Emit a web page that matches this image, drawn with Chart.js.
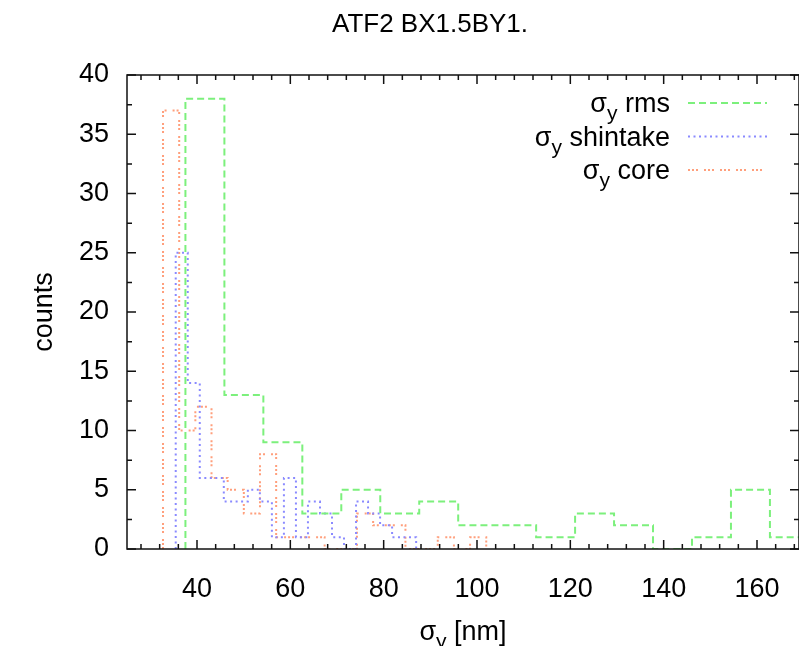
<!DOCTYPE html>
<html>
<head>
<meta charset="utf-8">
<script src="https://cdn.jsdelivr.net/npm/chart.js@4"></script>
<style>
  html, body { margin: 0; padding: 0; background: #fff; }
  #wrap { width: 799px; height: 646px; }
</style>
</head>
<body>
<div id="wrap"><canvas id="generatedChart"></canvas></div>
<script>
//histogram counts
var rms_counts = [38, 13, 9, 3, 5, 3, 4, 2, 2, 1, 3, 2, 0, 1, 5, 1];
var shintake_counts = [25, 14, 6, 6, 4, 4, 5, 4, 1, 6, 1, 4, 3, 1, 0, 4, 3, 2, 1, 1];
var core_counts = [37, 10, 12, 6, 5, 3, 8, 1, 1, 1, 0, 0, 3, 2, 2, 0, 0, 1, 0, 1];

//first bin edge and bin width of each histogram [nm]
var rms_bins = [37.52, 8.35];
var shintake_bins = [35.44, 2.576];
var core_bins = [32.72, 3.463];

//axis ticks
var x_ticks = [40, 60, 80, 100, 120, 140, 160];
var y_ticks = [0, 5, 10, 15, 20, 25, 30, 35, 40];

var font_name = '"Liberation Sans", Arial, Helvetica, sans-serif';

//turns counts into step outline points (edge, count)
function stepPoints(counts, bins) {
	var pts = [{x: bins[0], y: 0}];
	for (var i = 0; i < counts.length; i++) {
		pts.push({x: bins[0] + i * bins[1], y: counts[i]});
	}
	pts.push({x: bins[0] + counts.length * bins[1], y: 0});
	return pts;
}

//draws "σy" with a subscript y, followed by some text
function sigmaText(ctx, rest, x, y, size, align) {
	var big = size + 'px ' + font_name;
	var small = Math.round(size * 0.78) + 'px ' + font_name;
	ctx.font = big;
	var w1 = ctx.measureText('σ').width;
	var w3 = ctx.measureText(rest).width;
	ctx.font = small;
	var w2 = ctx.measureText('y').width;
	var total = w1 + w2 + w3;
	if (align == 'right') { x -= total; }
	if (align == 'center') { x -= total / 2; }
	ctx.textAlign = 'left';
	ctx.textBaseline = 'alphabetic';
	ctx.font = big;
	ctx.fillText('σ', x, y);
	ctx.font = small;
	ctx.fillText('y', x + w1, y + size * 0.3);
	ctx.font = big;
	ctx.fillText(rest, x + w1 + w2, y);
}

var datasets = [
	{label: 'rms', data: stepPoints(rms_counts, rms_bins), borderColor: '#7cf07c', borderDash: [7, 4]},
	{label: 'shintake', data: stepPoints(shintake_counts, shintake_bins), borderColor: '#8a8aff', borderDash: [2, 3.5]},
	{label: 'core', data: stepPoints(core_counts, core_bins), borderColor: '#ff9f7c', borderDash: [2, 2, 2, 2, 2, 6]}
];
datasets.forEach(function(d) {
	d.stepped = true;
	d.borderWidth = 2;
	d.pointRadius = 0;
	d.fill = false;
});

//frame, inside ticks, titles and legend in gnuplot style
var gnuplotDecor = {
	id: 'gnuplotDecor',
	afterDatasetsDraw: function(chart) {
		var ctx = chart.ctx;
		var area = chart.chartArea;
		var xs = chart.scales.x;
		var ys = chart.scales.y;
		ctx.save();
		ctx.strokeStyle = '#111';
		ctx.lineWidth = 1.5;
		ctx.setLineDash([]);
		ctx.strokeRect(area.left, area.top, area.right - area.left, area.bottom - area.top);

		ctx.beginPath();
		//x ticks: major every 20, minor every 4
		for (var v = 28; v <= xs.max; v += 4) {
			var px = xs.getPixelForValue(v);
			var len = (v % 20 == 0) ? 9 : 5;
			ctx.moveTo(px, area.bottom); ctx.lineTo(px, area.bottom - len);
			ctx.moveTo(px, area.top); ctx.lineTo(px, area.top + len);
		}
		//y ticks: major every 5, minor every 2.5
		for (var w = 0; w <= 40; w += 2.5) {
			var py = ys.getPixelForValue(w);
			var len2 = (w % 5 == 0) ? 9 : 5;
			ctx.moveTo(area.left, py); ctx.lineTo(area.left + len2, py);
			ctx.moveTo(area.right, py); ctx.lineTo(area.right - len2, py);
		}
		ctx.stroke();

		ctx.fillStyle = '#000';
		//main title
		ctx.font = '26px ' + font_name;
		ctx.textAlign = 'center';
		ctx.textBaseline = 'alphabetic';
		ctx.fillText('ATF2 BX1.5BY1.', 430, 32);

		//axis titles
		sigmaText(ctx, ' [nm]', (area.left + area.right) / 2, 640, 27, 'center');
		ctx.save();
		ctx.translate(45, (area.top + area.bottom) / 2);
		ctx.rotate(-Math.PI / 2);
		ctx.font = '27px ' + font_name;
		ctx.textAlign = 'center';
		ctx.textBaseline = 'middle';
		ctx.fillText('counts', 0, 0);
		ctx.restore();

		//legend
		chart.data.datasets.forEach(function(d, i) {
			var ly = 103 + i * 33.5;
			sigmaText(ctx, ' ' + d.label, 670, ly + 9, 27, 'right');
			ctx.strokeStyle = d.borderColor;
			ctx.lineWidth = d.borderWidth;
			ctx.setLineDash(d.borderDash);
			ctx.beginPath();
			ctx.moveTo(688, ly);
			ctx.lineTo(767, ly);
			ctx.stroke();
		});
		ctx.restore();
	}
};

var chart = new Chart(document.getElementById('generatedChart'), {
	type: 'line',
	data: {datasets: datasets},
	plugins: [gnuplotDecor],
	options: {
		responsive: true,
		maintainAspectRatio: false,
		animation: false,
		layout: {padding: {top: 75, right: 0, left: 0, bottom: 0}},
		plugins: {legend: {display: false}, tooltip: {enabled: false}},
		scales: {
			x: {
				type: 'linear',
				min: 25,
				max: 169,
				border: {display: false},
				grid: {display: false, drawTicks: false},
				afterBuildTicks: function(s) { s.ticks = x_ticks.map(function(v) { return {value: v}; }); },
				afterFit: function(s) { s.height = 97; s.paddingLeft = 0; s.paddingRight = 0; },
				ticks: {padding: 24, color: '#000', font: {family: font_name, size: 27}, maxRotation: 0}
			},
			y: {
				min: 0,
				max: 40,
				border: {display: false},
				grid: {display: false, drawTicks: false},
				afterBuildTicks: function(s) { s.ticks = y_ticks.map(function(v) { return {value: v}; }); },
				afterFit: function(s) { s.width = 127; s.paddingTop = 0; s.paddingBottom = 0; },
				ticks: {padding: 18, color: '#000', font: {family: font_name, size: 27}}
			}
		}
	}
});
</script>
</body>
</html>
